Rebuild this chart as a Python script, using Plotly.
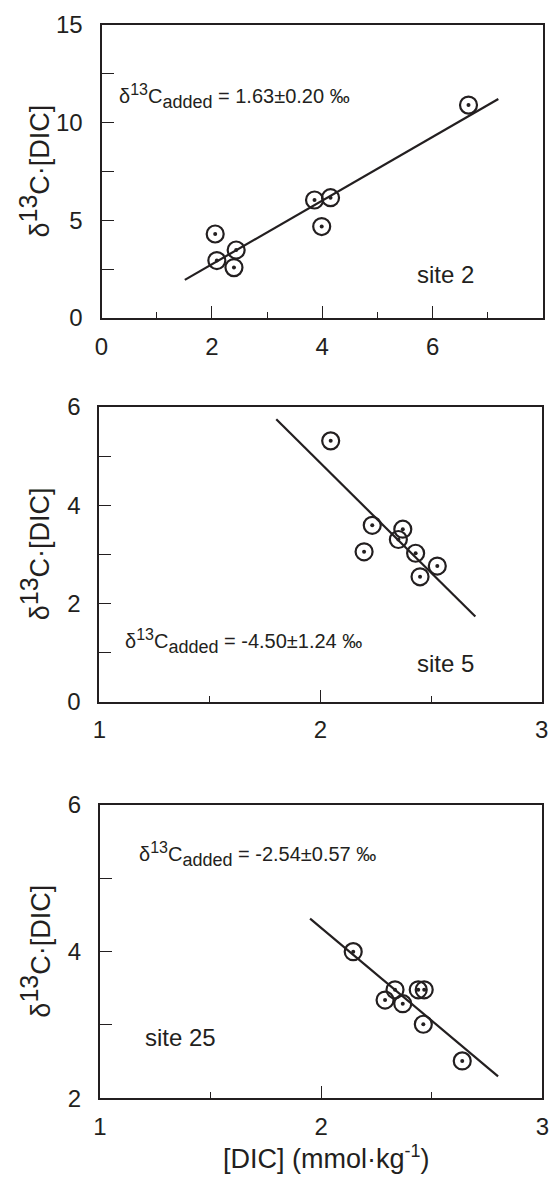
import plotly.graph_objects as go

W, H = 549, 1182
INK = "#231f20"
FONT = "Liberation Sans, Arial, Helvetica, sans-serif"

# ---- data ----
site2_dic = [6.65, 3.86, 4.15, 3.99, 2.06, 2.09, 2.44, 2.40]
site2_val = [10.9, 6.04, 6.16, 4.68, 4.30, 2.94, 3.48, 2.58]
site2_fit_x = [1.51, 7.19]
site2_fit_y = [1.95, 11.21]

site5_dic = [2.046, 2.234, 2.197, 2.372, 2.352, 2.430, 2.528, 2.450]
site5_val = [5.31, 3.59, 3.05, 3.51, 3.30, 3.02, 2.76, 2.54]
site5_fit_x = [1.80, 2.70]
site5_fit_y = [5.75, 1.73]

site25_dic = [2.145, 2.334, 2.289, 2.369, 2.439, 2.466, 2.462, 2.638]
site25_val = [4.00, 3.48, 3.34, 3.29, 3.48, 3.48, 3.01, 2.51]
site25_fit_x = [1.95, 2.80]
site25_fit_y = [4.45, 2.30]

panel_labels = ["site 2", "site 5", "site 25"]
slope_texts = ["1.63±0.20 ‰", "-4.50±1.24 ‰", "-2.54±0.57 ‰"]

x_ranges = [[0, 8], [1, 3], [1, 3]]
x_dticks = [2, 1, 1]
x_minor = [1, 0.5, 0.5]
y_ranges = [[0, 15], [0, 6], [2, 6]]
y_dticks = [5, 2, 2]
y_minor = [2.5, 1, 1]

# ---- layout geometry (pixels) ----
px_x = [(101.5, 543.0), (99.3, 541.7), (100.0, 542.3)]
px_y = [(25.0, 318.0), (407.0, 701.5), (805.0, 1098.3)]

def fx(p):
    return p / W

def fy(p):
    return 1 - p / H

fig = go.Figure()

series = [
    (site2_dic, site2_val, site2_fit_x, site2_fit_y),
    (site5_dic, site5_val, site5_fit_x, site5_fit_y),
    (site25_dic, site25_val, site25_fit_x, site25_fit_y),
]

for i, (xd, yd, lx, ly) in enumerate(series):
    xa = "x" if i == 0 else f"x{i+1}"
    ya = "y" if i == 0 else f"y{i+1}"
    fig.add_trace(go.Scatter(x=lx, y=ly, mode="lines", xaxis=xa, yaxis=ya,
                             line=dict(color=INK, width=2.2), showlegend=False))
    fig.add_trace(go.Scatter(x=xd, y=yd, mode="markers", xaxis=xa, yaxis=ya,
                             marker=dict(symbol="circle-open", size=17, color=INK,
                                         line=dict(color=INK, width=2.2)),
                             showlegend=False))
    fig.add_trace(go.Scatter(x=xd, y=yd, mode="markers", xaxis=xa, yaxis=ya,
                             marker=dict(symbol="circle", size=4, color=INK),
                             showlegend=False))

layout = dict(width=W, height=H, margin=dict(l=0, r=0, t=0, b=0, autoexpand=False),
              paper_bgcolor="white", plot_bgcolor="white",
              font=dict(family=FONT, color=INK), showlegend=False)

for i in range(3):
    xk = "xaxis" if i == 0 else f"xaxis{i+1}"
    yk = "yaxis" if i == 0 else f"yaxis{i+1}"
    xa = "x" if i == 0 else f"x{i+1}"
    ya = "y" if i == 0 else f"y{i+1}"
    layout[xk] = dict(domain=[fx(px_x[i][0]), fx(px_x[i][1])], range=x_ranges[i],
                      anchor=ya, showgrid=False, zeroline=False, automargin=False,
                      showline=True, linecolor=INK, linewidth=2, mirror=True,
                      ticks="inside", ticklen=12, tickwidth=1.2, tickcolor=INK,
                      dtick=x_dticks[i], tick0=x_ranges[i][0],
                      minor=dict(ticks="inside", ticklen=6, tickwidth=1.2,
                                 tickcolor=INK, dtick=x_minor[i], showgrid=False),
                      tickfont=dict(size=24, family=FONT, color=INK),
                      ticklabelstandoff=6, fixedrange=True)
    layout[yk] = dict(domain=[fy(px_y[i][1]), fy(px_y[i][0])], range=y_ranges[i],
                      anchor=xa, showgrid=False, zeroline=False, automargin=False,
                      showline=True, linecolor=INK, linewidth=2, mirror=True,
                      ticks="inside", ticklen=12, tickwidth=1.2, tickcolor=INK,
                      dtick=y_dticks[i], tick0=0,
                      minor=dict(ticks="inside", ticklen=12, tickwidth=1.2,
                                 tickcolor=INK, dtick=y_minor[i], showgrid=False),
                      tickfont=dict(size=24, family=FONT, color=INK),
                      ticklabelstandoff=12, fixedrange=True)

fig.update_layout(**layout)

ann = []
# y-axis titles
for i in range(3):
    ann.append(dict(text="δ<sup><span style='font-size:25px'>13</span></sup>C·[DIC]",
                    x=fx(35), y=fy((px_y[i][0] + px_y[i][1]) / 2),
                    xref="paper", yref="paper", textangle=-90, showarrow=False,
                    xanchor="center", yanchor="middle",
                    font=dict(size=27, family=FONT, color=INK)))
# x-axis title
ann.append(dict(text="[DIC] (mmol·kg<sup><span style='font-size:18px'>-1</span></sup>)",
                x=fx(326), y=fy(1157),
                xref="paper", yref="paper", showarrow=False,
                xanchor="center", yanchor="middle",
                font=dict(size=27, family=FONT, color=INK)))

eq_pos = [(117, 96), (123, 641), (137, 854)]
site_pos = [(415, 274), (415, 664), (143, 1037)]
for i in range(3):
    ann.append(dict(text="δ<sup><span style='font-size:16px'>13</span></sup>C"
                         "<sub><span style='font-size:18px'>added</span></sub> = " + slope_texts[i],
                    x=fx(eq_pos[i][0]), y=fy(eq_pos[i][1]), xref="paper", yref="paper",
                    showarrow=False, xanchor="left", yanchor="middle",
                    font=dict(size=20, family=FONT, color=INK)))
    ann.append(dict(text=panel_labels[i], x=fx(site_pos[i][0]), y=fy(site_pos[i][1]),
                    xref="paper", yref="paper", showarrow=False,
                    xanchor="left", yanchor="middle",
                    font=dict(size=24, family=FONT, color=INK)))

fig.update_layout(annotations=ann)
fig.write_html("out.html", config={"displayModeBar": False},
               post_script="document.body.style.margin='0px';document.body.style.overflow='hidden';")
